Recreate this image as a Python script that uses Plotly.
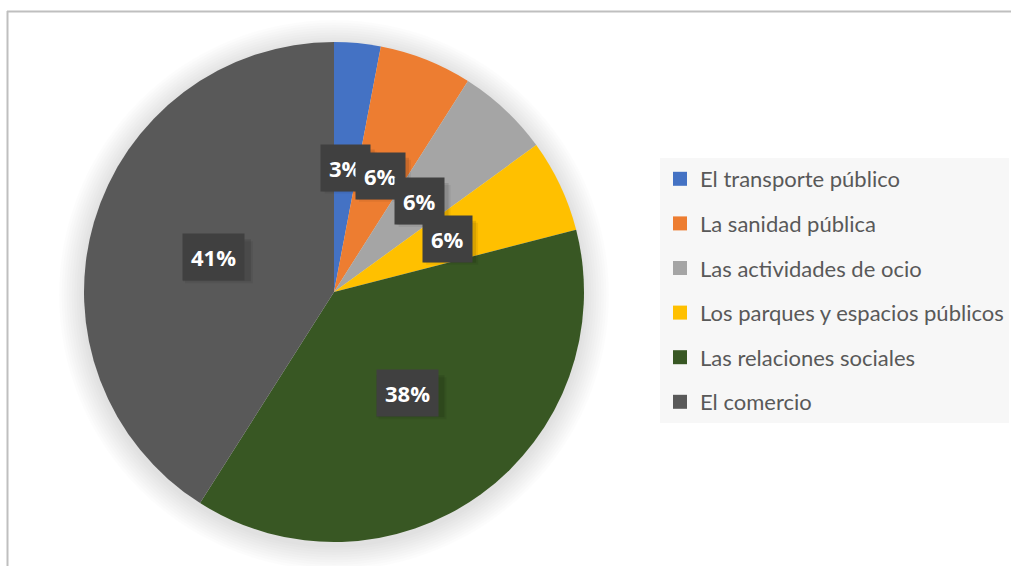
import math
import plotly.graph_objects as go

# data
categorias = ["El transporte público", "La sanidad pública", "Las actividades de ocio",
              "Los parques y espacios públicos", "Las relaciones sociales", "El comercio"]
porcentajes = [3, 6, 6, 6, 38, 41]
colores = ["#4472C4", "#ED7D31", "#A5A5A5", "#FFC000", "#385723", "#595959"]

W, H = 1011, 566
# pie placement in pixels (center and radius)
cx, cy, R = 334, 292, 250
dom_x = [(cx - R) / W, (cx + R) / W]
dom_y = [1 - (cy + R) / H, 1 - (cy - R) / H]

fig = go.Figure()

fig.add_trace(go.Pie(
    labels=categorias, values=porcentajes, sort=False, direction="clockwise",
    rotation=0, marker=dict(colors=colores, line=dict(width=0)),
    textinfo="none", showlegend=False, domain=dict(x=dom_x, y=dom_y),
    hovertemplate="%{label}: %{value}%<extra></extra>",
))

# legend entries (separate groups so the spacing can match)
for i, (cat, col) in enumerate(zip(categorias, colores)):
    fig.add_trace(go.Scatter(
        x=[None], y=[None], mode="markers", name=cat, legendgroup=str(i),
        marker=dict(symbol="square", size=14, color=col),
    ))

# data labels: dark boxes at half the radius, mid-angle of each slice
total = sum(porcentajes)
acum = 0
for v in porcentajes:
    ang = 2 * math.pi * (acum + v / 2) / total
    acum += v
    px = cx + 0.5 * R * math.sin(ang)
    py = cy - 0.5 * R * math.cos(ang)
    txt = f"{round(100 * v / total)}%"
    # soft drop shadow under the label box
    bw, bh = 16 * len(txt) + 20, 42
    for d, a in ((5, 0.06), (3, 0.10)):
        fig.add_shape(type="rect", xref="paper", yref="paper",
                      x0=(px - bw / 2 + d) / W, x1=(px + bw / 2 + d) / W,
                      y0=1 - (py + bh / 2 + d) / H, y1=1 - (py - bh / 2 + d) / H,
                      fillcolor=f"rgba(0,0,0,{a})", line=dict(width=0))
    fig.add_annotation(
        x=px / W, y=1 - py / H, xref="paper", yref="paper",
        xanchor="center", yanchor="middle",
        text=f"<b>{txt}</b>", showarrow=False, bgcolor="#404040", borderpad=8,
        font=dict(family="Open Sans", size=22, color="white"),
    )

# soft glow around the pie
for k in range(1, 11):
    r = R + 2.5 * k
    fig.add_shape(type="circle", xref="paper", yref="paper", layer="below",
                  x0=(cx - r) / W, x1=(cx + r) / W,
                  y0=1 - (cy + 3 + r) / H, y1=1 - (cy + 3 - r) / H,
                  fillcolor="rgba(0,0,0,0.012)", line=dict(width=0))

# chart frame (top and left edges visible)
fig.add_shape(type="line", xref="paper", yref="paper", x0=7 / W, x1=1, y0=1 - 11.5 / H, y1=1 - 11.5 / H,
              line=dict(color="#BFBFBF", width=2))
fig.add_shape(type="line", xref="paper", yref="paper", x0=7.5 / W, x1=7.5 / W, y0=0, y1=1 - 11 / H,
              line=dict(color="#BFBFBF", width=2))

fig.update_layout(
    width=W, height=H, margin=dict(l=0, r=0, t=0, b=0),
    paper_bgcolor="white", plot_bgcolor="white",
    xaxis=dict(visible=False), yaxis=dict(visible=False),
    legend=dict(x=660 / W, y=1 - 158 / H, xanchor="left", yanchor="top",
                bgcolor="#F7F7F7", tracegroupgap=13, itemclick=False,
                font=dict(family="Lato", size=22, color="#595959")),
)

fig.write_html("out.html", config={"displayModeBar": False},
               post_script="document.body.style.margin='0';")
